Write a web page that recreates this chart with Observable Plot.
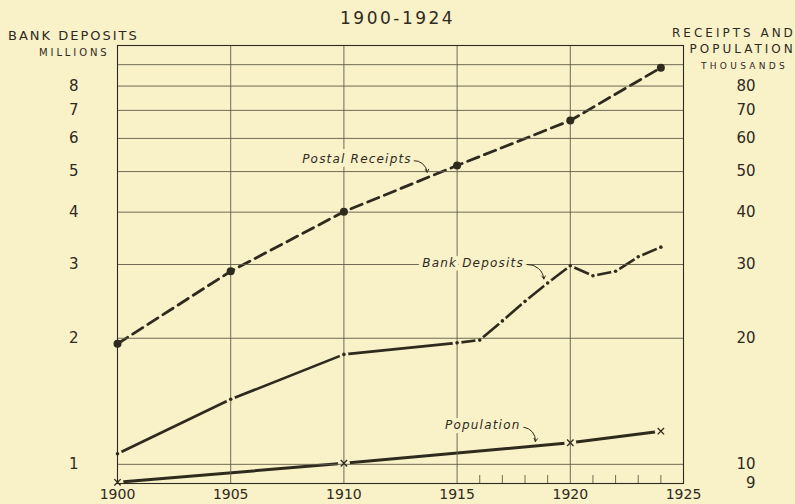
<!DOCTYPE html>
<html><head><meta charset="utf-8">
<script src="https://cdn.jsdelivr.net/npm/d3@7"></script>
<script src="https://cdn.jsdelivr.net/npm/@observablehq/plot@0.6"></script>
<style>
html,body{margin:0;padding:0;background:#f9f1c8;}
#wrap{position:relative;width:795px;height:504px;overflow:hidden;font-family:"DejaVu Sans",sans-serif;color:#2e2a1e;}
#chart{position:absolute;left:0;top:0;}
.lbl{position:absolute;line-height:1;white-space:nowrap;}
#chart svg g[aria-label="text"] text{letter-spacing:1.2px;}
</style></head><body>
<div id="wrap"><div id="chart"></div>
<div class="lbl" style="left:340px;top:10px;font-size:17px;letter-spacing:2.5px">1900-1924</div>
<div class="lbl" style="left:8px;top:29px;font-size:13px;letter-spacing:2px">BANK DEPOSITS</div>
<div class="lbl" style="left:39px;top:48px;font-size:10px;letter-spacing:2.9px">MILLIONS</div>
<div class="lbl" style="left:672px;top:27px;font-size:12px;letter-spacing:3px">RECEIPTS AND</div>
<div class="lbl" style="left:689.5px;top:43px;font-size:12px;letter-spacing:3px">POPULATION</div>
<div class="lbl" style="left:701px;top:62.4px;font-size:9px;letter-spacing:3.3px">THOUSANDS</div>
</div>
<script>
// Postal receipts (thousands of dollars)
const postalYears = [1900, 1905, 1910, 1915, 1920, 1924];
const postalReceipts = [19.4, 28.9, 40.1, 51.7, 66.2, 88.5];
// Bank deposits (millions of dollars)
const bankYears = [1900, 1905, 1910, 1915, 1916, 1917, 1918, 1919, 1920, 1921, 1922, 1923, 1924];
const bankDeposits = [1.06, 1.43, 1.83, 1.95, 1.98, 2.2, 2.45, 2.71, 2.98, 2.82, 2.89, 3.13, 3.30];
// Population (thousands)
const popYears = [1900, 1910, 1920, 1924];
const population = [9.06, 10.06, 11.26, 12.0];

// Axes
const xTicks = [1900, 1905, 1910, 1915, 1920, 1925];
const leftTicks = [1, 2, 3, 4, 5, 6, 7, 8];        // millions
const rightTicks = [9, 10, 20, 30, 40, 50, 60, 70, 80]; // thousands
const gridValues = [1, 2, 3, 4, 5, 6, 7, 8, 9];
const gridYears = [1905, 1910, 1915, 1920];
const minorYears = [1916, 1917, 1918, 1919, 1921, 1922, 1923, 1924];

// Annotations (label text and curved pointer, in data units of the left scale)
const noteTexts = ["Postal Receipts", "Bank Deposits", "Population"];
const noteX = [1913.0, 1917.95, 1917.8];
const noteY = [5.34, 3.02, 1.238];
const arrowX1 = [1913.07, 1918.1, 1917.95];
const arrowY1 = [5.31, 3.0, 1.226];
const arrowX2 = [1913.68, 1918.83, 1918.46];
const arrowY2 = [4.98, 2.77, 1.134];

const ink = "#2e2a1e", bg = "#f9f1c8", grid = "#615b48";

const postal = postalYears.map((year, i) => ({year, value: postalReceipts[i] / 10}));
const bank = bankYears.map((year, i) => ({year, value: bankDeposits[i]}));
const pop = popYears.map((year, i) => ({year, value: population[i] / 10}));
const notes = noteTexts.map((text, i) => ({text, x: noteX[i], y: noteY[i]}));
const arrows = noteTexts.map((t, i) => ({x1: arrowX1[i], y1: arrowY1[i], x2: arrowX2[i], y2: arrowY2[i]}));

const chart = Plot.plot({
  width: 795, height: 504,
  marginLeft: 117, marginRight: 112, marginTop: 45, marginBottom: 21,
  style: {background: bg, color: ink, fontFamily: "DejaVu Sans, sans-serif", fontSize: "15px", overflow: "visible"},
  x: {domain: [1900, 1925]},
  y: {type: "log", domain: [0.9, 10]},
  marks: [
    Plot.line(postal, {x: "year", y: "value", stroke: ink, strokeWidth: 2.8, strokeDasharray: "12,6"}),
    Plot.line(bank, {x: "year", y: "value", stroke: ink, strokeWidth: 2.6}),
    Plot.line(pop, {x: "year", y: "value", stroke: ink, strokeWidth: 3}),
    Plot.dot(bank, {x: "year", y: "value", r: 4.5, fill: bg}),
    Plot.dot(pop, {x: "year", y: "value", r: 6, fill: bg}),
    Plot.ruleY(gridValues, {stroke: grid, strokeWidth: 0.9}),
    Plot.ruleX(gridYears, {stroke: grid, strokeWidth: 0.9}),
    Plot.ruleX(minorYears, {stroke: grid, strokeWidth: 0.9, insetTop: 430}),
    Plot.frame({stroke: ink, strokeWidth: 1.1}),
    Plot.dot(postal, {x: "year", y: "value", r: 4, fill: ink}),
    Plot.dot(bank, {x: "year", y: "value", r: 1.8, fill: ink}),
    Plot.dot(pop, {x: "year", y: "value", r: 3, symbol: "times", stroke: ink, strokeWidth: 1.3}),
    Plot.arrow(arrows, {x1: "x1", y1: "y1", x2: "x2", y2: "y2", bend: 45, stroke: ink, strokeWidth: 1, headLength: 5}),
    Plot.text(notes, {x: "x", y: "y", text: "text", textAnchor: "end", fontStyle: "italic", fontSize: 12, fill: ink, stroke: bg, strokeWidth: 8, paintOrder: "stroke"}),
    Plot.axisX({ticks: xTicks, tickFormat: d => String(d), tickSize: 0, tickPadding: 6, fontSize: 14, label: null}),
    Plot.axisY({ticks: leftTicks, tickFormat: d => String(d), tickSize: 0, tickPadding: 39, label: null}),
    Plot.axisY({anchor: "right", ticks: rightTicks.map(v => v / 10), tickFormat: v => String(Math.round(v * 10)), tickSize: 0, tickPadding: 72, textAnchor: "end", label: null})
  ]
});
document.getElementById("chart").appendChild(chart);
</script>
</body></html>
